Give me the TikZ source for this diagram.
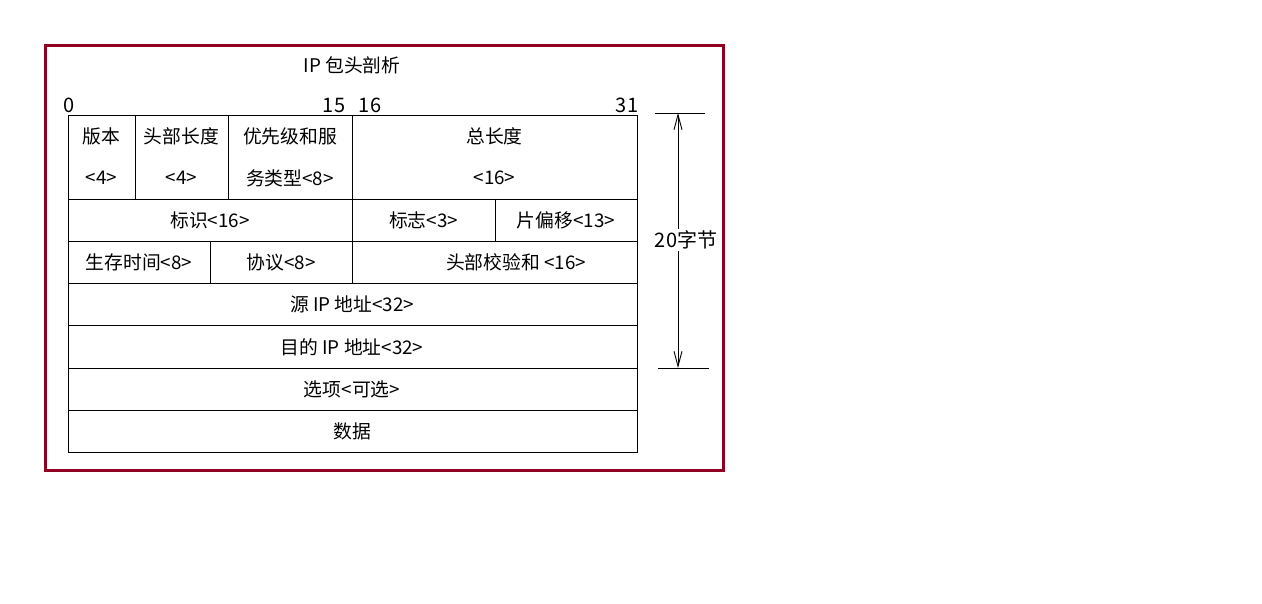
\documentclass[tikz,border=0pt]{standalone}
\usepackage{fontspec}
\setmainfont{Noto Sans CJK SC}
\usetikzlibrary{arrows.meta, positioning}
\definecolor{frameRed}{RGB}{145, 0, 32}

\begin{document}
\begin{tikzpicture}[
        x=1pt,
        y=-1pt,
        frame/.style={draw=frameRed, line width=3pt},
        rule/.style={black, line width=1pt},
        cell/.style={font=\fontsize{18.8}{22}\selectfont, inner sep=0pt},
        bit/.style={font=\fontsize{20}{22}\selectfont, inner sep=0pt, anchor=base},
        dimline/.style={line width=0.9pt, {Straight Barb[length=15pt, width=8pt]}-{Straight Barb[length=15pt, width=8pt]}}
    ]
        \useasboundingbox (0,0) rectangle (1262,603);
        \draw[frame] (45,45) rectangle (723,470);

        \node[cell] (title) at (352,65) {IP 包头剖析};

        % bit positions
        \node[bit] (b0) at (69,112) {0};
        \node[bit] (b15) at (334,112) {15};
        \node[bit] (b16) at (370,112) {16};
        \node[bit] (b31) at (627,112) {31};

        % table rules
        \draw[rule] (68,115) rectangle (637,452);
        \foreach \y in {199,241,283,325,368,410} {
            \draw[rule] (68,\y) -- (637,\y);
        }
        \foreach \x/\ya/\yb in {135/115/199, 228/115/199, 352/115/283, 495/199/241, 210/241/283} {
            \draw[rule] (\x,\ya) -- (\x,\yb);
        }

        % row 1
        \node[cell] (ver) at (101.5,136) {版本};
        \node[cell] (verLen) at (101.5,178) {<4>};
        \node[cell] (hlen) at (181.5,136) {头部长度};
        \node[cell] (hlenLen) at (181.5,178) {<4>};
        \node[cell] (tos) at (290,136) {优先级和服};
        \node[cell] (tosLen) at (290,178) {务类型<8>};
        \node[cell] (total) at (494.5,136) {总长度};
        \node[cell] (totalLen) at (494.5,178) {<16>};

        % row 2
        \node[cell] (ident) at (210,220) {标识<16>};
        \node[cell] (flags) at (423.5,220) {标志<3>};
        \node[cell] (offset) at (566,220) {片偏移<13>};

        % row 3
        \node[cell] (ttl) at (139,262) {生存时间<8>};
        \node[cell] (proto) at (281,262) {协议<8>};
        \node[cell] (csum) at (516,262) {头部校验和 <16>};

        % full-width rows
        \node[cell] (src) at (352,304) {源 IP 地址<32>};
        \node[cell] (dst) at (352,347) {目的 IP 地址<32>};
        \node[cell] (opts) at (352,389) {选项<可选>};
        \node[cell] (data) at (352,431) {数据};

        % size of the header
        \coordinate (dimTop) at (678,113);
        \coordinate (dimBot) at (678,368);
        \draw[rule] (655,113) -- (705,113);
        \draw[rule] (658,368) -- (709,368);
        \draw[dimline] (dimTop) -- (dimBot);
        \node[cell, fill=white, inner sep=2pt, font=\fontsize{20}{22}\selectfont] (hsize) at (686,240) {20字节};
    \end{tikzpicture}
\end{document}
